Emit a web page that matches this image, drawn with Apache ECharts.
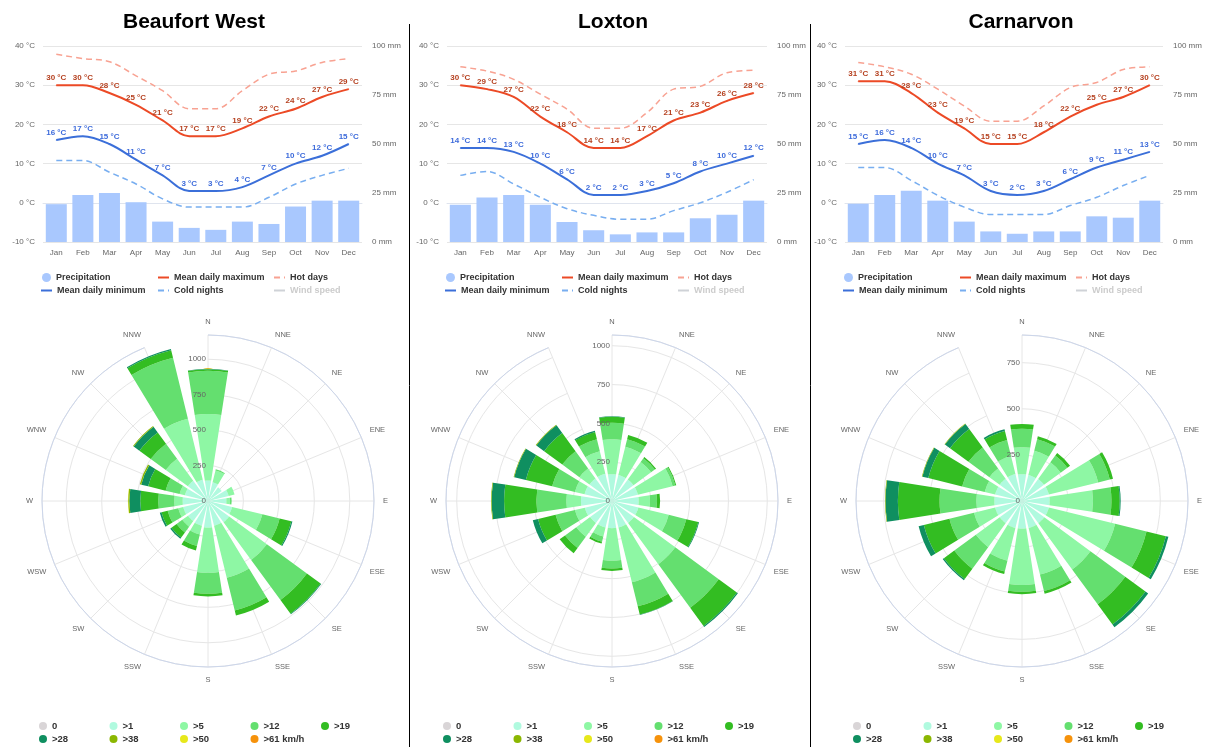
<!DOCTYPE html>
<html><head><meta charset="utf-8">
<script src="https://cdn.jsdelivr.net/npm/echarts@6/dist/echarts.min.js"></script>
<style>html,body{margin:0;padding:0;background:#fff}#c{width:1207px;height:747px}</style>
</head><body><div id="c"></div>
<script>
// ---------- data ----------
const stations = ['Beaufort West', 'Loxton', 'Carnarvon'];
const months = ['Jan','Feb','Mar','Apr','May','Jun','Jul','Aug','Sep','Oct','Nov','Dec'];
const tempTicks = [-10, 0, 10, 20, 30, 40];
const precipTicks = [0, 25, 50, 75, 100];

const bwPrecip = [19.3, 24, 25, 20.3, 10.4, 7.2, 6.2, 10.4, 9.2, 18.1, 21.1, 21.1];
const bwMax = [30, 30, 28, 25, 21, 17, 17, 19, 22, 24, 27, 29];
const bwMin = [16, 17, 15, 11, 7, 3, 3, 4, 7, 10, 12, 15];
const bwHot = [37.9, 36.8, 36.0, 32.4, 28.6, 24, 24, 28.6, 32.8, 33.6, 35.8, 36.8];
const bwCold = [10.8, 10.8, 7.8, 4.8, 1, -1.1, -1.1, -1.1, 1.4, 4.8, 7, 8.8];

const lxPrecip = [19, 22.7, 24, 19, 10.2, 6, 3.9, 4.9, 4.9, 12.1, 13.9, 21.1];
const lxMax = [30, 29, 27, 22, 18, 14, 14, 17, 21, 23, 26, 28];
const lxMin = [14, 14, 13, 10, 6, 2, 2, 3, 5, 8, 10, 12];
const lxHot = [34.7, 33.6, 31.5, 27.7, 23.9, 19, 19, 23, 29, 29.7, 33.2, 33.8];
const lxCold = [7, 8, 4.8, 1.4, -1.5, -3.2, -4.2, -4.2, -2, 0, 2.7, 5.9];

const cnPrecip = [19.5, 24, 26.2, 21.1, 10.4, 5.4, 4.2, 5.4, 5.4, 13.1, 12.4, 21.1];
const cnMax = [31, 31, 28, 23, 19, 15, 15, 18, 22, 25, 27, 30];
const cnMin = [15, 16, 14, 10, 7, 3, 2, 3, 6, 9, 11, 13];
const cnHot = [35.8, 34.7, 32.8, 29, 24.7, 20.8, 20.8, 24.7, 29.4, 30.7, 34, 34.7];
const cnCold = [9, 9, 5.7, 1.9, -1.1, -3, -3, -3, -0.7, 1.4, 4.4, 7];

const directions = ['N','NNE','NE','ENE','E','ESE','SE','SSE','S','SSW','SW','WSW','W','WNW','NW','NNW'];
const windClasses = ['0','>1','>5','>12','>19','>28','>38','>50','>61 km/h'];
const roseTicks = [0, 250, 500, 750, 1000];

const bwCalm   = [0,0,0,0,0,0,0,0,0,0,0,0,0,0,0,0];
const bwOver1  = [145,136,120,150,130,175,185,180,188,180,175,180,179,168,176,155];
const bwOver5  = [469,86,0,43,25,220,330,377,318,63,50,36,59,38,193,442];
const bwOver12 = [304,8,0,0,12,125,350,238,148,84,50,77,113,102,132,443];
const bwOver19 = [11,0,0,0,0,85,120,36,19,33,45,45,127,127,99,55];
const bwOver28 = [3,0,0,0,0,8,5,0,0,0,10,12,77,50,50,8];
const bwOver38 = [0,0,0,0,0,0,0,0,0,0,0,0,8,10,6,0];
const bwOver50 = [0,0,0,0,0,0,0,0,0,0,0,0,2,0,0,0];
const bwOver61 = [0,0,0,0,0,0,0,0,0,0,0,0,0,0,0,0];

const lxCalm   = [0,0,0,0,0,0,0,0,0,0,0,0,0,0,0,0];
const lxOver1  = [172,172,172,172,172,175,175,175,175,175,175,180,200,182,180,180];
const lxOver5  = [225,188,140,230,73,201,330,364,210,60,110,66,94,64,80,150];
const lxOver12 = [107,50,30,18,45,116,347,159,50,35,90,128,193,151,137,80];
const lxOver19 = [38,28,10,6,20,80,145,55,15,12,43,116,208,174,145,48];
const lxOver28 = [4,0,0,0,0,5,8,3,0,0,0,35,80,77,62,7];
const lxOver38 = [0,0,0,0,0,0,0,0,0,0,0,0,4,4,5,0];
const lxOver50 = [0,0,0,0,0,0,0,0,0,0,0,0,0,0,0,0];
const lxOver61 = [0,0,0,0,0,0,0,0,0,0,0,0,0,0,0,0];

const cnCalm   = [0,0,0,0,0,0,0,0,0,0,0,0,0,0,0,0];
const cnOver1  = [145,145,148,150,150,150,150,150,150,150,150,150,150,150,150,150];
const cnOver5  = [147,135,112,275,235,370,310,260,306,183,160,118,98,58,69,101];
const cnOver12 = [100,65,45,65,100,175,234,92,36,60,145,137,199,126,141,89];
const cnOver19 = [26,17,18,18,45,108,136,15,13,15,70,143,226,189,124,50];
const cnOver28 = [0,0,0,0,5,14,18,0,0,0,8,29,67,33,34,10];
const cnOver38 = [0,0,0,0,0,0,0,0,0,0,0,0,3,3,3,0];
const cnOver50 = [0,0,0,0,0,0,0,0,0,0,0,0,0,0,0,0];
const cnOver61 = [0,0,0,0,0,0,0,0,0,0,0,0,0,0,0,0];

// ---------- assembly ----------
const climate = [
  {precip: bwPrecip, max: bwMax, min: bwMin, hot: bwHot, cold: bwCold},
  {precip: lxPrecip, max: lxMax, min: lxMin, hot: lxHot, cold: lxCold},
  {precip: cnPrecip, max: cnMax, min: cnMin, hot: cnHot, cold: cnCold}
];
const wind = [
  [bwCalm, bwOver1, bwOver5, bwOver12, bwOver19, bwOver28, bwOver38, bwOver50, bwOver61],
  [lxCalm, lxOver1, lxOver5, lxOver12, lxOver19, lxOver28, lxOver38, lxOver50, lxOver61],
  [cnCalm, cnOver1, cnOver5, cnOver12, cnOver19, cnOver28, cnOver38, cnOver50, cnOver61]
];

// ---------- layout & style ----------
const FONT = "'Liberation Sans', Arial, Helvetica, sans-serif";
const gridLeft = [43, 447, 845];
const gridWidth = [319, 320, 318];
const titleX = [194, 613, 1021];
const legOff = [0, 404, 802];
const roseCenterX = [208, 612, 1022];
const roseCenterY = 501;
const roseRadius = 166;
const roseMax = [1171, 1069, 900];
const windLegOff = [0, 404, 814];
const COL = {bar:'#a9c8fe', max:'#ec4a26', maxLbl:'#b5401f', min:'#3b6fd9', minLbl:'#3d6bdb',
             hot:'#f8a292', cold:'#78aef0', grid:'#e6e6e6', axis:'#666'};
const windColors = ['#d9d5d7','#b0fadf','#8ef7a4','#64df6f','#33bd22','#0f8f60','#8bb701','#e7e81b','#f6920b'];

const P = [0, 1, 2];
const series = [];
const legends = [];

P.forEach(p => {
  const d = climate[p];
  series.push({type:'bar', name:'Precipitation', xAxisIndex:p, yAxisIndex:2*p+1, data:d.precip,
    barCategoryGap:'21%', itemStyle:{color:COL.bar}, z:1});
  series.push({type:'line', name:'Mean daily maximum', xAxisIndex:p, yAxisIndex:2*p, data:d.max,
    smooth:0.35, symbol:'circle', symbolSize:1, itemStyle:{color:COL.max}, lineStyle:{color:COL.max, width:2}, z:4,
    label:{show:true, position:'top', distance:3, formatter:'{c} °C', fontSize:8, fontWeight:'bold', color:COL.maxLbl}});
  series.push({type:'line', name:'Hot days', xAxisIndex:p, yAxisIndex:2*p, data:d.hot,
    smooth:0.35, symbol:'none', itemStyle:{color:COL.hot}, lineStyle:{color:COL.hot, width:1.5, type:[6,4]}, z:3});
  series.push({type:'line', name:'Mean daily minimum', xAxisIndex:p, yAxisIndex:2*p, data:d.min,
    smooth:0.35, symbol:'circle', symbolSize:1, itemStyle:{color:COL.min}, lineStyle:{color:COL.min, width:2}, z:4,
    label:{show:true, position:'top', distance:3, formatter:'{c} °C', fontSize:8, fontWeight:'bold', color:COL.minLbl}});
  series.push({type:'line', name:'Cold nights', xAxisIndex:p, yAxisIndex:2*p, data:d.cold,
    smooth:0.35, symbol:'none', itemStyle:{color:COL.cold}, lineStyle:{color:COL.cold, width:1.5, type:[6,4]}, z:3});

  wind[p].forEach((vals, k) => {
    series.push({type:'bar', name:windClasses[k], coordinateSystem:'polar', polarIndex:2*p,
      stack:'wind'+p, data:vals, barCategoryGap:'22%', itemStyle:{color:windColors[k]}, z:2});
  });

  // climate legends
  const o = legOff[p];
  const base = {padding:0, itemGap:0, textStyle:{fontSize:9, fontWeight:'bold', color:'#333', fontFamily:FONT}};
  const lineLeg = {itemWidth:11, itemHeight:8, itemStyle:{opacity:0}};
  legends.push(Object.assign({}, base, {data:['Precipitation'], left:42+o, top:273, icon:'circle', itemWidth:9, itemHeight:9}));
  legends.push(Object.assign({}, base, lineLeg, {data:['Mean daily maximum'], left:157+o, top:273}));
  legends.push(Object.assign({}, base, lineLeg, {data:['Hot days'], left:273+o, top:273}));
  legends.push(Object.assign({}, base, lineLeg, {data:['Mean daily minimum'], left:40+o, top:286}));
  legends.push(Object.assign({}, base, lineLeg, {data:['Cold nights'], left:157+o, top:286}));
  legends.push(Object.assign({}, base, lineLeg, {data:['Wind speed'], left:273+o, top:286,
    selected:{'Wind speed':false}, inactiveColor:'#ccc'}));

  // wind legends
  windClasses.forEach((name, k) => {
    const row = k < 5 ? 0 : 1;
    const col = k < 5 ? k : k - 5;
    legends.push({data:[name], left:39 + 70.5*col + windLegOff[p], top: row ? 734 : 721, padding:0,
      icon:'circle', itemWidth:8, itemHeight:8,
      textStyle:{fontSize:9.5, fontWeight:'bold', color:'#333', fontFamily:FONT}});
  });
});
series.push({type:'line', name:'Wind speed', xAxisIndex:0, yAxisIndex:0, data:[],
  itemStyle:{color:'#ccc'}, lineStyle:{color:'#ccc', width:2}});

const option = {
  animation:false,
  backgroundColor:'#fff',
  textStyle:{fontFamily:FONT},
  title: P.map(p => ({text:stations[p], left:titleX[p], top:12, textAlign:'center', padding:0,
    textStyle:{fontSize:21, fontWeight:'bold', color:'#000', fontFamily:FONT}})),
  grid: P.map(p => ({left:gridLeft[p], top:46, width:gridWidth[p], height:196})),
  xAxis: P.map(p => ({gridIndex:p, type:'category', data:months,
    axisLine:{lineStyle:{color:'#dfe4ee'}}, axisTick:{show:false},
    axisLabel:{color:COL.axis, fontSize:8, margin:7}})),
  yAxis: [].concat(...P.map(p => [
    {gridIndex:p, type:'value', min:tempTicks[0], max:tempTicks[tempTicks.length-1], interval:tempTicks[1]-tempTicks[0],
     axisLabel:{formatter:'{value} °C', color:COL.axis, fontSize:8, margin:8},
     splitLine:{lineStyle:{color:COL.grid}}, axisLine:{show:false}, axisTick:{show:false}},
    {gridIndex:p, type:'value', position:'right', min:precipTicks[0], max:precipTicks[precipTicks.length-1],
     interval:precipTicks[1]-precipTicks[0],
     axisLabel:{formatter:'{value} mm', color:COL.axis, fontSize:8, margin:10},
     splitLine:{show:false}, axisLine:{show:false}, axisTick:{show:false}}
  ])),
  polar: [].concat(...P.map(p => [
    {center:[roseCenterX[p], roseCenterY], radius:roseRadius},
    {center:[roseCenterX[p], roseCenterY], radius:roseRadius}
  ])),
  angleAxis: [].concat(...P.map(p => [
    {polarIndex:2*p, type:'category', data:directions, startAngle:90, boundaryGap:false, z:0,
     axisLine:{lineStyle:{color:'#ccd6eb', width:1}}, axisTick:{show:false},
     axisLabel:{color:COL.axis, fontSize:7.5, margin:9, interval:0},
     splitLine:{show:true, interval:0, lineStyle:{color:COL.grid}}},
    {polarIndex:2*p+1, type:'value', startAngle:90, show:false}
  ])),
  radiusAxis: [].concat(...P.map(p => [
    {polarIndex:2*p, type:'value', min:0, max:roseMax[p], interval:roseTicks[1]-roseTicks[0], z:0,
     axisLine:{show:false}, axisTick:{show:false}, axisLabel:{show:false},
     splitLine:{lineStyle:{color:COL.grid}}},
    {polarIndex:2*p+1, type:'value', min:0, max:roseMax[p], interval:roseTicks[1]-roseTicks[0], z:10,
     axisLine:{show:false}, axisTick:{show:false}, splitLine:{show:false},
     axisLabel:{color:COL.axis, fontSize:8, margin:2, padding:[0,0,6,0],
       formatter: v => roseTicks.indexOf(v) >= 0 ? String(v) : ''}}
  ])),
  legend: legends,
  series: series,
  graphic: [
    {type:'line', shape:{x1:409.5, y1:24, x2:409.5, y2:747}, style:{stroke:'#000', lineWidth:1}},
    {type:'line', shape:{x1:810.5, y1:24, x2:810.5, y2:747}, style:{stroke:'#000', lineWidth:1}}
  ]
};

const chart = echarts.init(document.getElementById('c'), null, {renderer:'canvas'});
chart.setOption(option);
</script>
</body></html>
